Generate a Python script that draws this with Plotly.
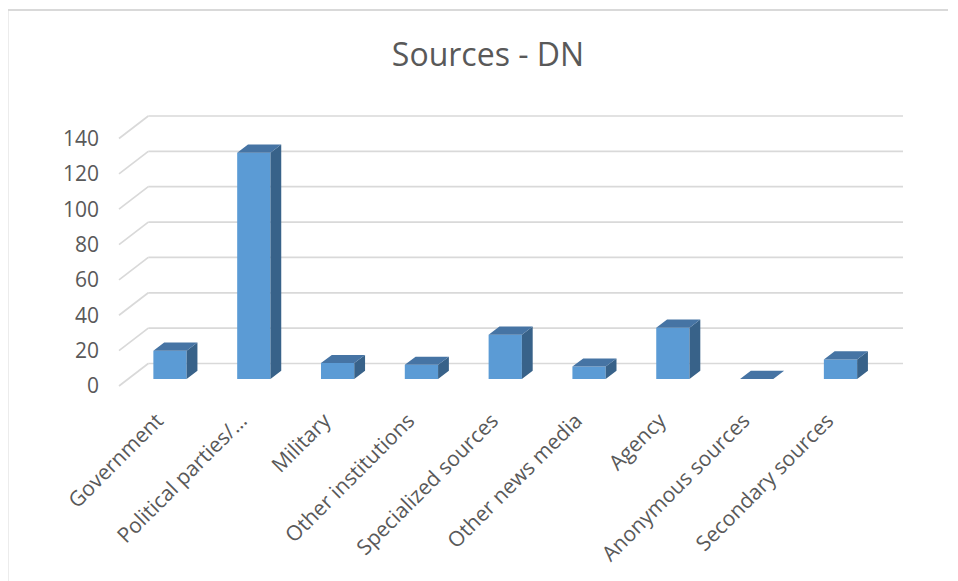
import plotly.graph_objects as go

CATEGORIES = [
    "Government",
    "Political parties/…",
    "Military",
    "Other institutions",
    "Specialized sources",
    "Other news media",
    "Agency",
    "Anonymous sources",
    "Secondary sources",
]
VALUES = [16, 128, 9, 8, 25, 7, 29, 0, 11]
Y_TICKS = [0, 20, 40, 60, 80, 100, 120, 140]
TITLE = "Sources - DN"

W, H = 958, 581
PAGE_PAD = 8             # browser body margin around the figure
FONT = "Open Sans, sans-serif"
TEXT = "#595959"
GRID = "#d9d9d9"
FRONT, TOP, SIDE = "#5b9bd5", "#4674a4", "#386289"

# pixel geometry of the fake 3D frame (oblique projection, no perspective)
PX_UNIT = 1.768          # pixels per value unit
BASE_PX = 379            # bar front face baseline
LABEL_PX = 386           # front edge of the floor (tick labels)
WALL_PX = 363.5          # back wall baseline
DOM_TOP, DOM_BOT = 100, 400
X_LEFT, X_RIGHT = 128.1, 882.4
CAT_PX = (X_RIGHT - X_LEFT) / len(CATEGORIES)
LABEL_SHIFT = 13 / CAT_PX   # category labels sit a bit left of the columns
BAR_W = 0.397
DX, DY = 10.8 / CAT_PX, 8.2 / PX_UNIT   # bar depth offsets

wall_off = (BASE_PX - WALL_PX) / PX_UNIT
front_off = (BASE_PX - LABEL_PX) / PX_UNIT


def px(x):
    return (x - PAGE_PAD) / W


def py(y):
    return 1 - (y - PAGE_PAD) / H


xs = list(range(len(CATEGORIES)))
fig = go.Figure()
fig.add_trace(go.Bar(x=xs, y=VALUES, width=BAR_W, marker=dict(color=FRONT, line=dict(width=0)),
                     hovertemplate="%{customdata}: %{y}<extra></extra>", customdata=CATEGORIES))

# top and side faces of the columns
tx, ty, sx, sy = [], [], [], []
for i, v in zip(xs, VALUES):
    l, r = i - BAR_W / 2, i + BAR_W / 2
    tx += [l, r, r + DX, l + DX, l, None]
    ty += [v, v, v + DY, v + DY, v, None]
    sx += [r, r, r + DX, r + DX, r, None]
    sy += [0, v, v + DY, DY, 0, None]
fig.add_trace(go.Scatter(x=sx, y=sy, mode="lines", fill="toself", fillcolor=SIDE,
                         line=dict(width=0, color=SIDE), hoverinfo="skip"))
fig.add_trace(go.Scatter(x=tx, y=ty, mode="lines", fill="toself", fillcolor=TOP,
                         line=dict(width=0, color=TOP), hoverinfo="skip"))

# back wall gridlines and floor diagonals
for t in Y_TICKS:
    fig.add_shape(type="line", xref="paper", yref="y", x0=px(148.3), x1=px(903),
                  y0=t + wall_off, y1=t + wall_off, line=dict(color=GRID, width=1.7), layer="below")
    fig.add_shape(type="line", xref="paper", yref="y", x0=px(119), x1=px(148.3),
                  y0=t + front_off, y1=t + wall_off, line=dict(color=GRID, width=1.7), layer="below")

# chart border
fig.add_shape(type="line", xref="paper", yref="paper", x0=px(7.5), x1=px(948), y0=py(10), y1=py(10),
              line=dict(color=GRID, width=2))
fig.add_shape(type="line", xref="paper", yref="paper", x0=px(7.5), x1=px(7.5), y0=py(10), y1=0,
              line=dict(color=GRID, width=2))

fig.update_layout(
    template="none",
    width=W, height=H,
    margin=dict(l=0, r=0, t=0, b=0, autoexpand=False),
    paper_bgcolor="white", plot_bgcolor="rgba(0,0,0,0)",
    showlegend=False,
    font=dict(family=FONT, color=TEXT, size=21),
    title=dict(text=TITLE, x=px(488), xanchor="center", y=py(55), yanchor="middle",
               font=dict(family=FONT, size=32, color=TEXT)),
    xaxis=dict(domain=[px(X_LEFT), px(X_RIGHT)], range=[-0.5, len(CATEGORIES) - 0.5],
               showticklabels=False, showgrid=False, zeroline=False, showline=False,
               automargin=False),
    xaxis2=dict(overlaying="x", anchor="free", position=py(393),
                range=[-0.5 + LABEL_SHIFT, len(CATEGORIES) - 0.5 + LABEL_SHIFT],
                tickvals=xs, ticktext=CATEGORIES, tickangle=-45, showgrid=False, zeroline=False,
                showline=False, ticks="outside", ticklen=6, tickcolor="rgba(0,0,0,0)",
                tickfont=dict(size=21, color=TEXT), automargin=False),
    yaxis=dict(domain=[py(DOM_BOT), py(DOM_TOP)],
               range=[(BASE_PX - DOM_BOT) / PX_UNIT, (BASE_PX - DOM_TOP) / PX_UNIT],
               showgrid=False, zeroline=False, showticklabels=False, showline=False,
               automargin=False),
    yaxis2=dict(overlaying="y", anchor="free", position=px(99), side="left",
                domain=[py(DOM_BOT), py(DOM_TOP)],
                range=[(LABEL_PX - DOM_BOT) / PX_UNIT, (LABEL_PX - DOM_TOP) / PX_UNIT],
                tickvals=Y_TICKS, showgrid=False, zeroline=False, showline=False, ticks="",
                tickfont=dict(size=21, color=TEXT), automargin=False),
)
# invisible traces so the label axes are drawn
fig.add_trace(go.Scatter(x=[0], y=[0], yaxis="y2", mode="markers", marker=dict(opacity=0),
                         hoverinfo="skip"))
fig.add_trace(go.Scatter(x=[0], y=[0], xaxis="x2", mode="markers", marker=dict(opacity=0),
                         hoverinfo="skip"))

fig.write_html("out.html")
